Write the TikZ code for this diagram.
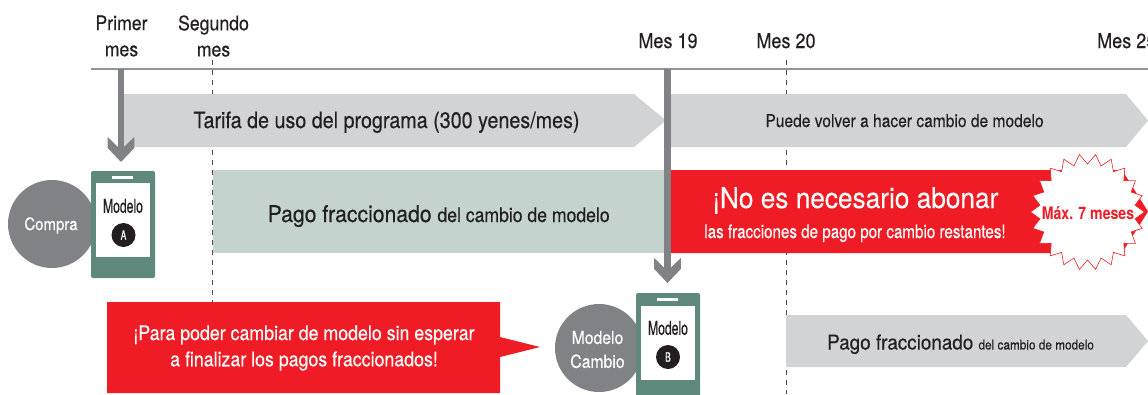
\documentclass[tikz,border=0pt]{standalone}
\usepackage{fontspec}
\setmainfont[FakeStretch=0.88,FakeBold=0.3]{TeX Gyre Heros}
\newfontfamily\narrowf[FakeStretch=0.64,FakeBold=0.3]{TeX Gyre Heros}
\newfontfamily\midf[FakeStretch=0.82,FakeBold=0.3]{TeX Gyre Heros}
\newfontfamily\widef[FakeStretch=0.92,FakeBold=0.3]{TeX Gyre Heros}
\newfontfamily\heavyf[FakeStretch=0.82]{TeX Gyre Heros Bold}
\usetikzlibrary{arrows.meta}
\definecolor{ink}{HTML}{231F20}
\definecolor{redc}{HTML}{EF1C25}
\definecolor{bandg}{HTML}{D1D3D4}
\definecolor{greyc}{HTML}{808285}
\definecolor{phoneg}{HTML}{5F897C}
\definecolor{paleg}{HTML}{C5D3CF}
\definecolor{axisg}{HTML}{939598}
\pgfdeclarearrow{
  name=Chev,
  setup code={\pgfarrowssettipend{0pt}\pgfarrowssetlineend{-14pt}\pgfarrowssetvisualbackend{-25pt}\pgfarrowssetbackend{-25pt}},
  drawing code={
    \pgfpathmoveto{\pgfpoint{0pt}{0pt}}
    \pgfpathlineto{\pgfpoint{-14pt}{13.3pt}}
    \pgfpathlineto{\pgfpoint{-25pt}{13.3pt}}
    \pgfpathlineto{\pgfpoint{-15pt}{3pt}}
    \pgfpathlineto{\pgfpoint{-15pt}{-3pt}}
    \pgfpathlineto{\pgfpoint{-25pt}{-13.3pt}}
    \pgfpathlineto{\pgfpoint{-14pt}{-13.3pt}}
    \pgfpathclose
    \pgfusepathqfill
  }
}
\tikzset{
  lbl/.style={text=ink,inner sep=0pt,align=center,font=\fontsize{#1}{#1}\selectfont},
  wlbl/.style={text=white,inner sep=0pt,align=center,font=\fontsize{#1}{#1}\selectfont},
  band/.style={fill=bandg,draw=none},
  phonebody/.style={fill=phoneg,draw=none,rounded corners=2pt},
  screen/.style={fill=white,draw=none},
  disc/.style={fill=greyc,draw=none,circle,minimum size=88pt,inner sep=0pt},
  badge/.style={fill=ink,circle,minimum size=24pt,inner sep=0pt,text=white,font=\fontsize{13}{13}\narrowf},
  dashline/.style={draw=ink!80,line width=.7pt,dash pattern=on 5pt off 5pt},
  conn/.style={draw=greyc,line width=6.6pt,-{Chev},color=greyc},
}
\begin{document}
\begin{tikzpicture}[x=1pt,y=-1pt]
\useasboundingbox (0,0) rectangle (1148,394);
\clip (0,0) rectangle (1148,394);
% dashed guides
\draw[dashline] (212.5,60) -- (212.5,302);
\draw[dashline] (786,60) -- (786,394);
% axis
\coordinate (axL) at (91,69);
\coordinate (axR) at (1148,69);
\draw[axisg,line width=1.4pt] (axL) -- (axR);
% axis labels
\node[lbl=20.1] (m1) at (121.5,36) {Primer\\[6pt]mes};
\node[lbl=20.1] (m2) at (213.5,36) {Segundo\\[6pt]mes};
\node[lbl=20.5,anchor=base] (m19) at (668,48) {Mes 19};
\node[lbl=20.5,anchor=base west] (m25) at (1097,48) {Mes 25};
\node[lbl=20.5,anchor=base] (m20) at (786,48) {Mes 20};
% bands
\fill[band] (124,94) -- (634,94) -- (666,120.5) -- (634,147) -- (124,147) -- cycle;
\fill[band] (671,94) -- (1126,94) -- (1148,120.5) -- (1126,147) -- (671,147) -- cycle;
\node[lbl=22.4,anchor=base] (t1) at (386.5,128) {Tarifa de uso del programa (300 yenes/mes)};
\node[lbl=17.7,anchor=base] (t2) at (904.5,127) {Puede volver a hacer cambio de modelo};
% instalment blocks
\fill[paleg] (213,170) rectangle (666,253);
\node[lbl=23,anchor=base west,font=\fontsize{23}{23}\widef] (t3) at (267.5,222) {Pago fraccionado \fontsize{20}{20}\selectfont\rmfamily del cambio de modelo};
\fill[redc] (671,170) -- (1122,170) -- (1148,211.5) -- (1122,253) -- (671,253) -- cycle;
\node[wlbl=28.5,anchor=base,font=\fontsize{28.5}{28.5}\widef] (t4) at (855.5,208) {¡No es necesario abonar};
\node[wlbl=18.5,anchor=base,font=\fontsize{18.5}{18.5}\midf] (t5) at (855,238) {las fracciones de pago por cambio restantes!};
% burst
\draw[redc,fill=white,line width=.6pt] plot[samples at={0,1,...,43}] ({1087.5+(52.5+4.5*cos(\x*180))*cos(\x*360/44)},{212+(53+5*cos(\x*180))*sin(\x*360/44)}) -- cycle;
\node[text=redc,inner sep=0pt,font=\fontsize{17.2}{17.2}\heavyf] (t6) at (1088,213) {Máx. 7 meses};
% purchase
\node[disc] (buy) at (52,224) {};
\node[wlbl=17] at (51,225.5) {Compra};
\node[phonebody,minimum width=64pt,minimum height=107pt,inner sep=0pt] (pa) at (123,224.5) {};
\node[screen,minimum width=54pt,minimum height=74pt,inner sep=0pt] (sa) at (123,220) {};
\fill[white] (112,176) rectangle (133,179);
\node[lbl=19,font=\fontsize{19}{19}\narrowf] (la) at (123,206) {Modelo};
\node[badge] (ba) at (123.5,235) {A};
% change
\node[disc] (chg) at (599,348) {};
\node[wlbl=17.9] at (597.5,349.5) {Modelo\\[6pt]Cambio};
\node[phonebody,minimum width=64pt,minimum height=107pt,inner sep=0pt] (pb) at (668,346.5) {};
\node[screen,minimum width=54pt,minimum height=74pt,inner sep=0pt] (sb) at (668,343) {};
\fill[white] (657,298) rectangle (678,301);
\node[lbl=19,font=\fontsize{19}{19}\narrowf] (lb) at (668,328) {Modelo};
\node[badge] (bb) at (668,357) {B};
% red callout
\fill[redc] (107,302) -- (500,302) -- (500,337) -- (540,347) -- (500,357) -- (500,393) -- (107,393) -- cycle;
\node[wlbl=20.2] (t7) at (304,348) {¡Para poder cambiar de modelo sin esperar\\[6pt]a finalizar los pagos fraccionados!};
% lower band
\fill[band] (786,315) -- (1126,315) -- (1148,341) -- (1126,367) -- (786,367) -- cycle;
\node[lbl=20.5,anchor=base west,font=\fontsize{20.5}{20.5}\widef] (t8) at (827,349.5) {Pago fraccionado \fontsize{13.4}{13.4}\selectfont\rmfamily del cambio de modelo};
% connectors
\coordinate (a1) at (121,69);
\coordinate (h1) at (121,162);
\coordinate (a2) at (667.5,69);
\coordinate (h2) at (667.5,283);
\draw[conn] (a1) -- (h1);
\draw[conn] (a2) -- (h2);
\end{tikzpicture}
\end{document}
